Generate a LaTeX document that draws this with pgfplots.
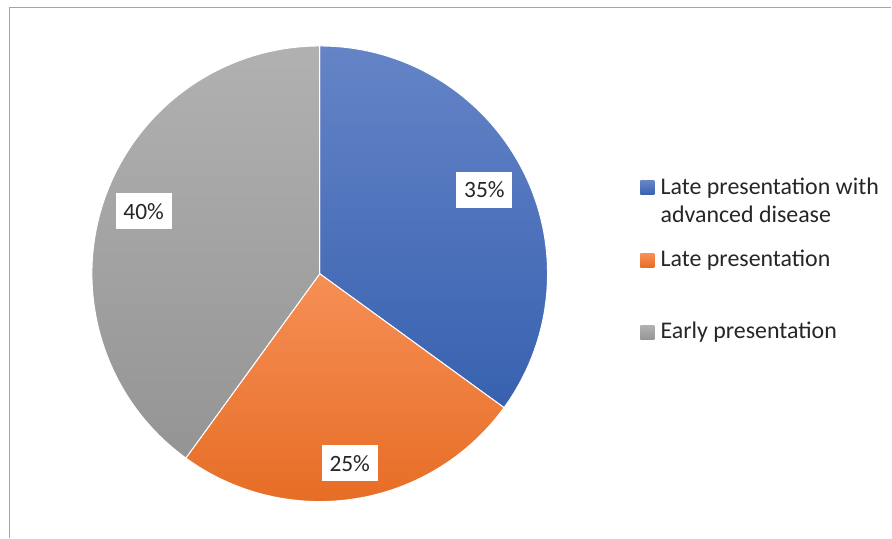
\documentclass[border=0pt]{standalone}
\usepackage{fontspec}
\setmainfont{Carlito}
\usepackage{pgfplots}
\usepackage{pgfplotstable}
\pgfplotsset{compat=1.18}

\definecolor{blueTop}{RGB}{101,132,199}
\definecolor{blueBot}{RGB}{55,97,175}
\definecolor{orangeTop}{RGB}{246,143,86}
\definecolor{orangeBot}{RGB}{230,108,36}
\definecolor{grayTop}{RGB}{177,177,177}
\definecolor{grayBot}{RGB}{148,148,148}
\definecolor{txt}{RGB}{38,38,38}
\definecolor{framegray}{RGB}{165,165,165}

% share of patients per presentation group (%)
\pgfplotstableread{
value
35
25
40
}\piedata

\begin{document}
\begin{tikzpicture}
\pgfplotstablegetelem{0}{value}\of\piedata \let\va\pgfplotsretval
\pgfplotstablegetelem{1}{value}\of\piedata \let\vb\pgfplotsretval
\pgfplotstablegetelem{2}{value}\of\piedata \let\vc\pgfplotsretval
% slice angles, clockwise from 12 o'clock
\pgfmathsetmacro\aA{90}
\pgfmathsetmacro\aB{\aA-3.6*\va}
\pgfmathsetmacro\aC{\aB-3.6*\vb}
\pgfmathsetmacro\aD{\aC-3.6*\vc}
\pgfmathsetmacro\mA{(\aA+\aB)/2}
\pgfmathsetmacro\mB{(\aB+\aC)/2}
\pgfmathsetmacro\mC{(\aC+\aD)/2-1.5}
\begin{axis}[
    width=892bp, height=538bp, scale only axis,
    xmin=-320, xmax=572, ymin=-264, ymax=274,
    hide axis, clip=false,
]
\path (rel axis cs:0,0) rectangle (rel axis cs:1,1);
\draw[framegray, line width=1.5bp] (axis cs:-310.5,-264) -- (axis cs:-310.5,266.5) -- (axis cs:572,266.5);

\path[top color=blueTop, bottom color=blueBot, draw=white, line width=1bp]
  (axis cs:0,0) -- ++(\aA:228bp) arc[start angle=\aA, end angle=\aB, radius=228bp] -- cycle;
\path[top color=orangeTop, bottom color=orangeBot, draw=white, line width=1bp]
  (axis cs:0,0) -- ++(\aB:228bp) arc[start angle=\aB, end angle=\aC, radius=228bp] -- cycle;
\path[top color=grayTop, bottom color=grayBot, draw=white, line width=1bp]
  (axis cs:0,0) -- ++(\aC:228bp) arc[start angle=\aC, end angle=\aD, radius=228bp] -- cycle;

\tikzset{lbl/.style={fill=white, inner sep=0pt, minimum width=56bp, minimum height=36bp,
  text=txt, font=\fontsize{23.5}{28}\selectfont}}
\node[lbl] at (axis cs:{185*cos(\mA)},{185*sin(\mA)}) {\va\%};
\node[lbl] at (axis cs:{192*cos(\mB)},{192*sin(\mB)}) {\vb\%};
\node[lbl] at (axis cs:{187*cos(\mC)},{187*sin(\mC)}) {\vc\%};

% legend
\tikzset{leg/.style={anchor=base west, inner sep=0pt, text=txt, font=\fontsize{24}{28}\selectfont}}
\path[top color=blueTop, bottom color=blueBot] (axis cs:321,93) rectangle (axis cs:335,79);
\path[top color=orangeTop, bottom color=orangeBot] (axis cs:321,20) rectangle (axis cs:335,6);
\path[top color=grayTop, bottom color=grayBot] (axis cs:321,-52) rectangle (axis cs:335,-66);
\node[leg] at (axis cs:341,79) {Late presentation with};
\node[leg] at (axis cs:341,51) {advanced disease};
\node[leg] at (axis cs:341,7) {Late presentation};
\node[leg] at (axis cs:341,-65) {Early presentation};
\end{axis}
\end{tikzpicture}
\end{document}
